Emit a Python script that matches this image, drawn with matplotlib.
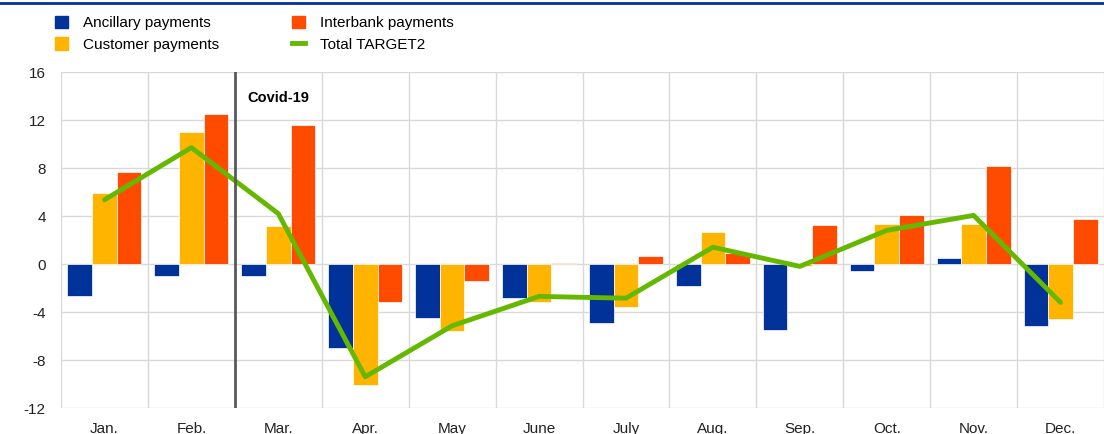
import matplotlib.pyplot as plt
import numpy as np
from matplotlib.patches import Patch
from matplotlib.lines import Line2D

plt.rcParams['font.family'] = ['Liberation Sans', 'DejaVu Sans']
plt.rcParams['axes.unicode_minus'] = False

months = ['Jan.', 'Feb.', 'Mar.', 'Apr.', 'May', 'June', 'July', 'Aug.', 'Sep.', 'Oct.', 'Nov.', 'Dec.']
ancillary = [-2.7, -1.0, -1.0, -7.0, -4.5, -2.85, -4.9, -1.8, -5.5, -0.6, 0.5, -5.15]
customer = [5.95, 11.0, 3.2, -10.1, -5.6, -3.15, -3.6, 2.7, -0.2, 3.35, 3.35, -4.6]
interbank = [7.7, 12.5, 11.55, -3.2, -1.4, 0.08, 0.7, 0.9, 3.25, 4.1, 8.2, 3.75]
total = [5.35, 9.7, 4.2, -9.4, -5.15, -2.7, -2.85, 1.4, -0.2, 2.8, 4.05, -3.2]

c_anc = '#003299'
c_cust = '#FFB400'
c_inter = '#FF4B00'
c_total = '#65B800'

fig = plt.figure(figsize=(11.04, 4.34), dpi=100)
ax = fig.add_axes([61 / 1104, 1 - 408 / 434, 1 - 61 / 1104, (408 - 72) / 434])

x = np.arange(len(months))
w = 0.284
ax.bar(x - w, ancillary, w, color=c_anc, edgecolor='white', linewidth=0.5, zorder=2)
ax.bar(x, customer, w, color=c_cust, edgecolor='white', linewidth=0.5, zorder=2)
ax.bar(x + w, interbank, w, color=c_inter, edgecolor='white', linewidth=0.5, zorder=2)
ax.plot(x, total, color=c_total, lw=3.5, zorder=3, solid_capstyle='round')

# Covid-19 marker
ax.axvline(1.5, color='#595959', lw=2, zorder=4)
ax.text(1.65, 13.85, 'Covid-19', fontsize=10.5, fontweight='bold', va='center', ha='left')

ax.set_xlim(-0.5, 11.35)
ax.set_ylim(-12, 16)
ax.set_yticks(range(-12, 17, 4))
ax.set_xticks(x)
ax.set_xticklabels(months)
ax.set_xticks(np.arange(-0.5, 12, 1), minor=True)
ax.tick_params(axis='both', which='both', length=0, labelsize=11, colors='#222222')
ax.tick_params(axis='x', pad=10)
ax.tick_params(axis='y', pad=11)
ax.grid(axis='y', which='major', color='#d9d9d9', lw=1, zorder=0)
ax.grid(axis='x', which='minor', color='#d9d9d9', lw=1, zorder=0)
ax.grid(axis='x', which='major', visible=False)
for s in ax.spines.values():
    s.set_visible(False)

# blue rule across the top
fig.add_artist(Line2D([0, 1], [1 - 2.5 / 434, 1 - 2.5 / 434], color='#003299', lw=2))

handles = [Patch(color=c_anc), Patch(color=c_cust), Patch(color=c_inter),
           Line2D([], [], color=c_total, lw=3.5)]
labels = ['Ancillary payments', 'Customer payments', 'Interbank payments', 'Total TARGET2']
fig.legend(handles, labels, ncol=2, loc='upper left', bbox_to_anchor=(49 / 1104, 1 - 10 / 434),
           frameon=False, fontsize=11, handlelength=0.85, handleheight=0.85,
           handletextpad=1.0, columnspacing=4.75, labelspacing=0.45, borderaxespad=0)

fig.savefig('out.png', dpi=100)
